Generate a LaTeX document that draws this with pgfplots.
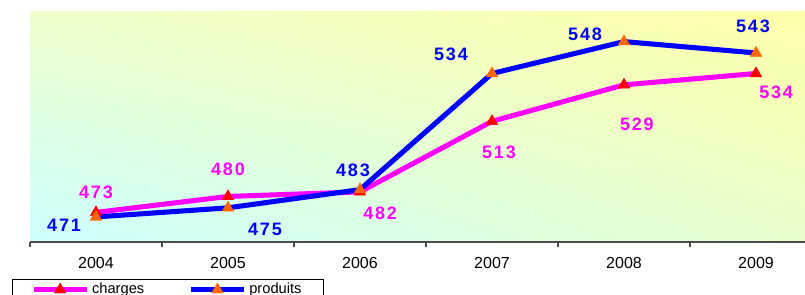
\documentclass[border=0pt]{standalone}
\usepackage{fontspec}
\setmainfont{Liberation Sans}
\newfontfamily\lab[LetterSpace=10]{Liberation Sans}
\usepackage{pgfplots}
\pgfplotsset{compat=1.18}
\usetikzlibrary{shadings}
\definecolor{bgUL}{RGB}{238,255,204}
\definecolor{bgUR}{RGB}{255,255,168}
\definecolor{bgLL}{RGB}{204,255,255}
\definecolor{bgLR}{RGB}{232,255,204}
\definecolor{cmag}{RGB}{255,0,255}
\definecolor{cblue}{RGB}{0,0,255}
\definecolor{cred}{RGB}{255,0,0}
\definecolor{corange}{RGB}{255,102,0}
\begin{document}
\begin{tikzpicture}
\begin{axis}[
  at={(22.5pt,39.75pt)}, anchor=south west,
  scale only axis, width=594pt, height=172.5pt,
  xmin=-0.5, xmax=5.5, ymin=460, ymax=561,
  axis lines*=left,
  y axis line style={draw=none},
  x axis line style={draw=black!70, line width=0.8pt},
  ytick=\empty,
  xtick={0,1,2,3,4,5},
  xticklabels={2004,2005,2006,2007,2008,2009},
  minor xtick={-0.5,0.5,1.5,2.5,3.5,4.5,5.5},
  major tick length=0pt,
  minor tick length=4pt,
  tick align=outside,
  minor tick style={draw=black!70, line width=0.8pt},
  xticklabel style={font=\fontsize{12}{13}\selectfont, yshift=-8pt},
  /pgf/number format/assume math mode=true,
  axis background/.style={shade, upper left=bgUL, upper right=bgUR, lower left=bgLL, lower right=bgLR},
  clip=false,
  legend columns=2,
  legend style={at={(-0.0227,-0.161)}, anchor=north west, draw=black, line width=0.5pt,
    font=\fontsize{11}{12}\selectfont, inner ysep=1pt, inner xsep=14pt,
    /tikz/every even column/.append style={column sep=31pt}},
  legend cell align=left,
  legend image code/.code={\draw[mark repeat=2,mark phase=2,#1] plot coordinates {(0pt,0pt) (20pt,0pt) (40pt,0pt)};},
]
\addplot[cmag, line width=3.8pt, mark=triangle*, mark size=5pt,
  mark options={fill=cred, draw=cred, line width=0.3pt}]
  coordinates {(0,473) (1,480) (2,482) (3,513) (4,529) (5,534)};
\addlegendentry{charges}
\addplot[cblue, line width=3.8pt, mark=triangle*, mark size=5pt,
  mark options={fill=corange, draw=corange, line width=0.3pt}]
  coordinates {(0,471) (1,475) (2,483) (3,534) (4,548) (5,543)};
\addlegendentry{produits}
\tikzset{lbl/.style={font=\lab\bfseries\fontsize{13.5}{15}\selectfont, inner sep=0pt}}
\node[lbl, text=cmag] at (axis cs:0,482.0) {473};
\node[lbl, text=cblue] at (axis cs:-0.242,467.5) {471};
\node[lbl, text=cmag] at (axis cs:1,492.1) {480};
\node[lbl, text=cblue] at (axis cs:1.28,465.7) {475};
\node[lbl, text=cblue] at (axis cs:1.947,491.3) {483};
\node[lbl, text=cmag] at (axis cs:2.152,472.8) {482};
\node[lbl, text=cblue] at (axis cs:2.689,542.4) {534};
\node[lbl, text=cmag] at (axis cs:3.053,499.2) {513};
\node[lbl, text=cblue] at (axis cs:3.705,551.2) {548};
\node[lbl, text=cmag] at (axis cs:4.098,511.5) {529};
\node[lbl, text=cblue] at (axis cs:4.977,554.7) {543};
\node[lbl, text=cmag] at (axis cs:5.152,525.6) {534};
\end{axis}
\pgfresetboundingbox
\useasboundingbox (0,0) rectangle (603.75pt,221.25pt);
\end{tikzpicture}
\end{document}
